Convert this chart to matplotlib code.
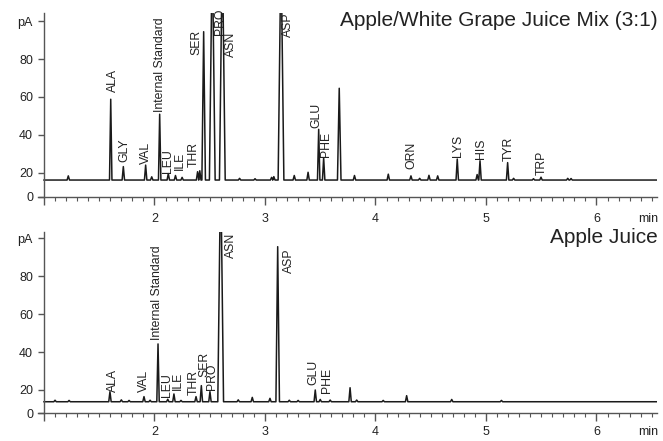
import matplotlib.pyplot as plt
from matplotlib.transforms import blended_transform_factory

plt.rcParams['font.family'] = ['Liberation Sans', 'DejaVu Sans']

T_START, T_END = 1.0, 6.55

# Apple/White Grape Juice Mix (3:1): peak retention time (min), apex (pA)
mix_rt = [1.22, 1.604, 1.718, 1.92, 1.975, 2.047, 2.125, 2.19, 2.25, 2.39,
          2.41, 2.445, 2.523, 2.614, 2.77, 2.91, 3.06, 3.08, 3.145, 3.265,
          3.39, 3.486, 3.531, 3.672, 3.81, 4.116, 4.321, 4.40, 4.484, 4.563,
          4.74, 4.92, 4.946, 5.196, 5.25, 5.43, 5.498, 5.74, 5.77]
mix_pa = [18.3, 58.8, 23.2, 24.0, 17.8, 50.9, 19.5, 18.5, 17.5, 20.5,
          21.0, 94.5, 140, 140, 17.0, 16.8, 17.5, 17.9, 140, 18.5,
          20.2, 42.9, 27.9, 64.6, 18.5, 19.2, 18.3, 17.0, 18.6, 18.3,
          27.2, 19.0, 26.3, 25.3, 17.0, 16.8, 17.6, 17.0, 16.9]
mix_base = 16.1

mix_names = ['ALA', 'GLY', 'VAL', 'Internal Standard', 'LEU', 'ILE', 'THR',
             'SER', 'PRO', 'ASN', 'ASP', 'GLU', 'PHE', 'ORN', 'LYS', 'HIS',
             'TYR', 'TRP']
mix_label_t = [1.62, 1.727, 1.919, 2.052, 2.125, 2.233, 2.351, 2.382, 2.59,
               2.692, 3.208, 3.462, 3.552, 4.328, 4.749, 4.955, 5.202, 5.504]
mix_label_pa = [62.6, 25.8, 24.5, 52.3, 20.0, 21.4, 23.2, 82.2, 92.8, 81.0,
                91.9, 43.8, 28.5, 22.0, 28.1, 27.1, 26.3, 18.8]

# Apple Juice
apple_rt = [1.10, 1.227, 1.597, 1.70, 1.77, 1.905, 1.96, 2.032, 2.12, 2.176,
            2.24, 2.376, 2.424, 2.502, 2.599, 2.758, 2.885, 3.045, 3.115,
            3.22, 3.30, 3.455, 3.50, 3.59, 3.77, 3.83, 4.07, 4.282, 4.69, 5.14]
apple_pa = [14.6, 14.5, 19.1, 14.8, 14.5, 16.5, 14.6, 44.3, 15.1, 17.9,
            14.5, 16.5, 22.3, 19.1, 140, 14.8, 16.1, 15.6, 95.6,
            14.6, 14.5, 20.0, 15.0, 14.7, 21.2, 14.7, 14.5, 17.0, 15.0, 14.5]
apple_base = 13.8

apple_names = ['ALA', 'VAL', 'Internal Standard', 'LEU', 'ILE', 'THR', 'SER',
               'PRO', 'ASN', 'ASP', 'GLU', 'PHE']
apple_label_t = [1.622, 1.905, 2.025, 2.11, 2.215, 2.357, 2.448, 2.523,
                 2.692, 3.22, 3.437, 3.564]
apple_label_pa = [19.1, 19.1, 46.4, 16.5, 20.0, 17.4, 27.0, 20.0, 89.5,
                  81.5, 22.6, 18.6]

ink = '#1a1a1a'
axis_col = '#555555'


def trace(rt, pa, base):
    ts = [T_START]
    ys = [base]
    for r, h in zip(rt, pa):
        w = 0.011 if h < 60 else (0.016 if h < 100 else 0.026)
        ts += [r - w, r, r + w]
        ys += [base, h, base]
    ts.append(T_END)
    ys.append(base)
    return ts, ys


def setup(ax, ylo, yhi, xpad):
    ax.set_xlim(0.9457, 6.5475)
    ax.set_ylim(ylo, yhi)
    for s in ['top', 'right']:
        ax.spines[s].set_visible(False)
    ax.spines['left'].set_position(('data', 1.0))
    for s in ['left', 'bottom']:
        ax.spines[s].set_color(axis_col)
        ax.spines[s].set_linewidth(1.0)
    ax.set_xticks([1, 2, 3, 4, 5, 6])
    ax.set_xticklabels(['', '2', '3', '4', '5', '6'])
    ax.set_xticks([x / 10 for x in range(11, 66) if x % 10], minor=True)
    ax.set_yticks([ylo, 20, 40, 60, 80, 100])
    ax.set_yticklabels(['0', '20', '40', '60', '80', 'pA'])
    ax.tick_params(axis='x', which='major', length=5.8, width=1.0,
                   color=axis_col, labelsize=9, pad=xpad, labelcolor='#222222')
    ax.tick_params(axis='x', which='minor', length=3.2, width=0.8,
                   color=axis_col)
    ax.tick_params(axis='y', length=4.3, width=1.0, color=axis_col,
                   labelsize=9, pad=3.6, labelcolor='#222222')
    tr = blended_transform_factory(ax.transData, ax.transAxes)
    ax.annotate('min', xy=(6.466, 0), xycoords=tr,
                xytext=(0, -(5.8 + xpad)), textcoords='offset points',
                ha='center', va='top', fontsize=9, color='#222222')


fig = plt.figure(figsize=(6.63, 4.41), dpi=100)
ax1 = fig.add_axes([0.0573, 0.554, 0.9336, 0.4166])
ax2 = fig.add_axes([0.0573, 0.0628, 0.9336, 0.4118])

setup(ax1, 7.3, 104.4, 5.8)
setup(ax2, 7.7, 103.5, 3.0)

t, y = trace(mix_rt, mix_pa, mix_base)
ax1.plot(t, y, color=ink, lw=1.1)
for name, lt, lp in zip(mix_names, mix_label_t, mix_label_pa):
    ax1.text(lt, lp, name, rotation=90, ha='center', va='bottom',
             fontsize=8.8, color='#222222')

t, y = trace(apple_rt, apple_pa, apple_base)
ax2.plot(t, y, color=ink, lw=1.1)
for name, lt, lp in zip(apple_names, apple_label_t, apple_label_pa):
    ax2.text(lt, lp, name, rotation=90, ha='center', va='bottom',
             fontsize=8.8, color='#222222')

fig.text(0.9925, 1 - 26 / 441, 'Apple/White Grape Juice Mix (3:1)',
         ha='right', va='baseline', fontsize=15, color='#222222')
fig.text(0.9925, 1 - 243.3 / 441, 'Apple Juice',
         ha='right', va='baseline', fontsize=15, color='#222222')

fig.savefig('out.png', dpi=100)
